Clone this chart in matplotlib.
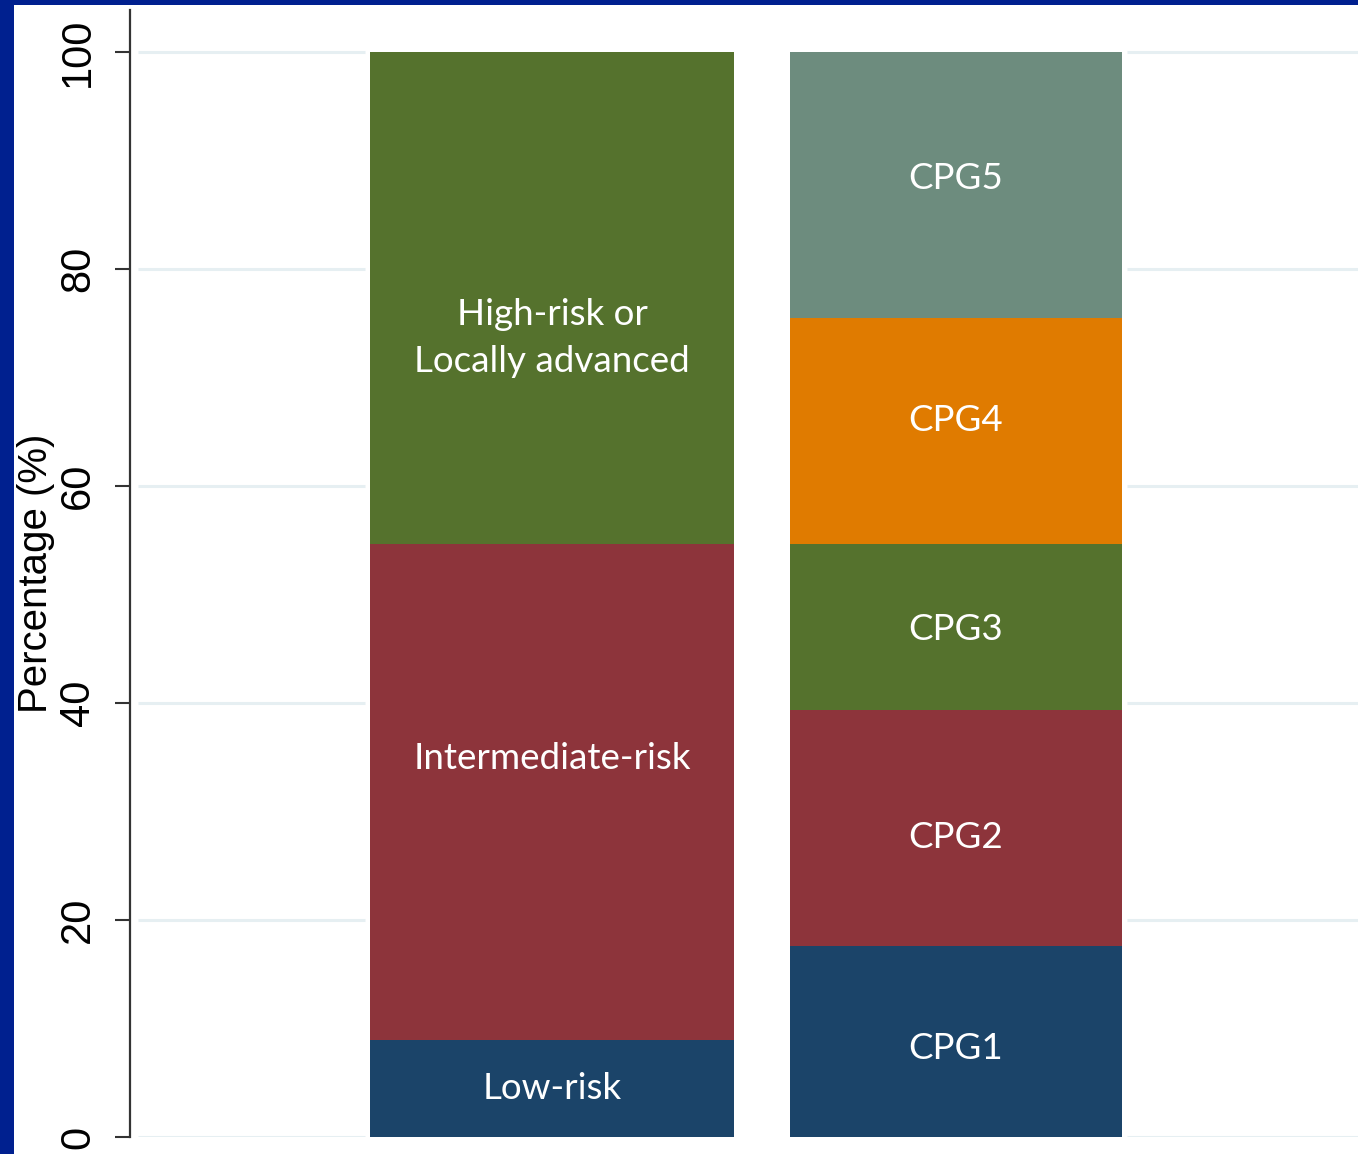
import matplotlib.pyplot as plt
from matplotlib.patches import Rectangle

# data
risk_labels = ["Low-risk", "Intermediate-risk", "High-risk or\nLocally advanced"]
risk_values = [8.9, 45.8, 45.3]
risk_colors = ["#1b4469", "#8d343b", "#55722d"]

cpg_labels = ["CPG1", "CPG2", "CPG3", "CPG4", "CPG5"]
cpg_values = [17.6, 21.8, 15.3, 20.8, 24.5]
cpg_colors = ["#1b4469", "#8d343b", "#55722d", "#e07b00", "#6d8c7e"]

# label nudges (segments labels were not exactly centred)
risk_nudge = [0.0, 3.1, -3.7]
cpg_nudge = [-0.6, -0.9, -0.25, 1.0, 0.6]

bar_x = [1, 2]
bar_w = [0.903, 0.822]
yticks = [0, 20, 40, 60, 80, 100]

fig = plt.figure(figsize=(13.58, 11.54), dpi=100)
fig.patch.set_facecolor("white")
ax = fig.add_axes([130 / 1358, 17 / 1154, 1 - 130 / 1358, (1137 - 10) / 1154])

lbl_font = ["Lato", "DejaVu Sans"]


def stack(x, w, vals, cols, labels, nudges):
    bottom = 0
    for v, c, lab, n in zip(vals, cols, labels, nudges):
        ax.bar(x, v, width=w, bottom=bottom, color=c, linewidth=0, zorder=2)
        ax.text(x, bottom + v / 2 + n, lab, ha="center", va="center",
                color="white", fontsize=26.5, family=lbl_font, linespacing=1.5, zorder=3)
        bottom += v


stack(bar_x[0], bar_w[0], risk_values, risk_colors, risk_labels, risk_nudge)
stack(bar_x[1], bar_w[1], cpg_values, cpg_colors, cpg_labels, cpg_nudge)

xmin, xmax = -0.0446, 2.995
gap = 0.012
left_end = bar_x[0] - bar_w[0] / 2 - gap
right_start = bar_x[1] + bar_w[1] / 2 + gap
for y in yticks:
    ax.hlines(y, xmin + 0.02, left_end, color="#e6eff2", linewidth=2.2, zorder=1)
    ax.hlines(y, right_start, xmax, color="#e6eff2", linewidth=2.2, zorder=1)

ax.set_xlim(xmin, xmax)
ax.set_ylim(0, 103.9)
ax.set_yticks(yticks)
ax.set_yticklabels([str(t) for t in yticks], rotation=90, va="center",
                   fontsize=30, family="Liberation Sans")
ax.set_xticks([])
ax.tick_params(axis="y", length=11, width=1.5, color="#333333", pad=12)
for s in ["top", "right", "bottom"]:
    ax.spines[s].set_visible(False)
ax.spines["left"].set_color("#333333")
ax.spines["left"].set_linewidth(1.6)
ax.set_ylabel("Percentage (%)", fontsize=29, family="Liberation Sans", labelpad=2)

# navy frame on the left and top
fig.patches.append(Rectangle((0, 0), 14 / 1358, 1, transform=fig.transFigure,
                             facecolor="#00208f", edgecolor="none", zorder=10))
fig.patches.append(Rectangle((0, 1 - 5 / 1154), 1, 5 / 1154, transform=fig.transFigure,
                             facecolor="#00208f", edgecolor="none", zorder=10))

fig.savefig("out.png", dpi=100)
